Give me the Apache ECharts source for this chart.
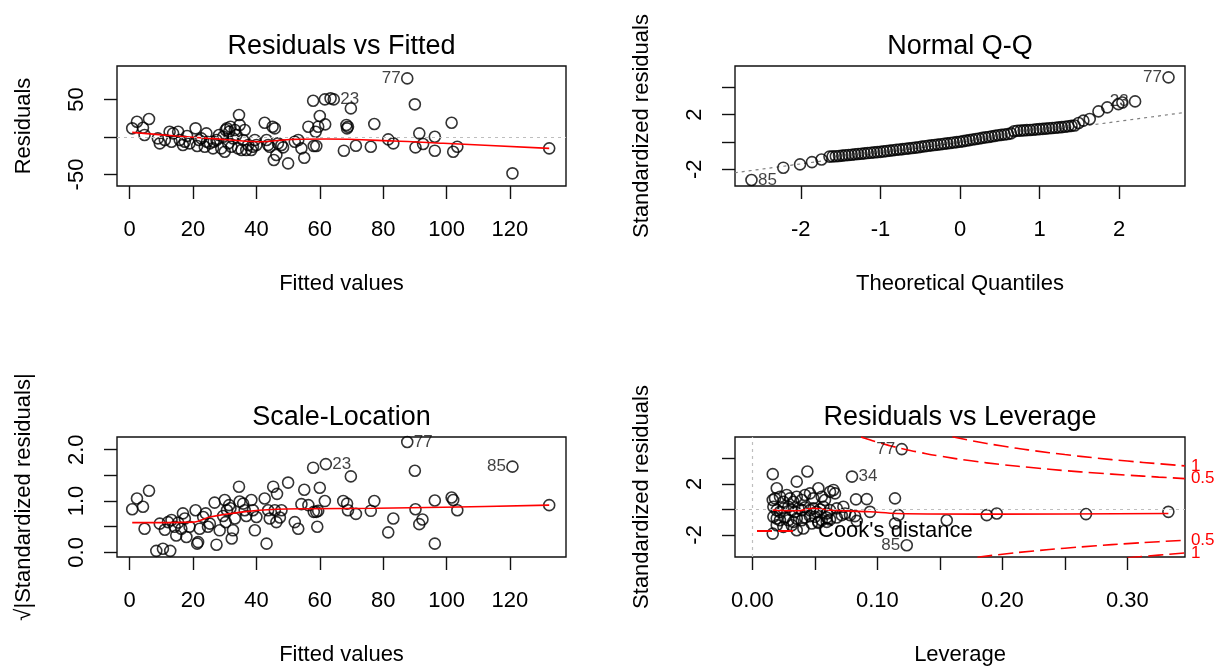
<!DOCTYPE html>
<html><head><meta charset="utf-8">
<script src="https://cdn.jsdelivr.net/npm/echarts@6/dist/echarts.min.js"></script>
<style>html,body{margin:0;padding:0;background:#fff}#c{width:1216px;height:668px}</style>
</head><body><div id="c"></div>
<script>
// ---------- Data ----------
// Panel 1: Residuals vs Fitted  [fitted, residual]
const residVsFitted = [
[0.8,11.6],[2.3,20.4],[4.2,12.4],[4.7,2.7],[6.1,24.0],[8.9,-1.8],[9.5,-8.4],[11.1,-4.0],[12.6,7.1],[13.2,-6.2],
[13.7,4.9],[15.3,7.1],[15.8,-4.0],[16.8,-10.7],[17.4,-6.2],[18.1,1.3],[18.9,-8.4],[20.8,11.6],[21.3,-12.0],[21.9,-4.0],
[22.6,-1.8],[23.7,-12.9],[24.2,4.9],[24.4,-6.2],[25.3,-8.4],[26.3,-15.1],[26.5,-6.2],[27.4,-4.0],[28.2,2.7],[28.9,-15.1],
[29.5,0.4],[30.0,-19.6],[30.3,9.3],[30.7,11.6],[31.1,-8.4],[31.4,7.1],[31.8,13.8],[32.1,-12.9],[32.6,-1.8],[33.2,9.3],
[33.7,2.7],[34.2,-15.1],[34.5,29.3],[34.7,16.0],[35.3,-17.3],[35.8,-4.0],[36.3,9.3],[36.8,-17.3],[37.4,-10.7],[38.4,-17.3],
[38.9,-12.9],[39.5,-4.0],[40.0,-10.7],[42.6,19.1],[43.2,-4.0],[43.7,-10.7],[44.2,-12.9],[45.1,13.8],[45.5,-30.7],[45.8,11.6],
[46.3,-24.0],[46.8,-8.4],[47.9,-10.7],[48.4,-13.8],[50.0,-35.1],[52.1,-6.2],[53.2,-4.0],[54.2,-15.1],[55.1,-27.6],[56.4,13.8],
[57.9,48.4],[58.1,-12.0],[58.7,7.1],[58.9,-12.0],[59.5,13.8],[60.0,28.0],[61.6,50.2],[61.7,16.9],[63.4,51.6],[64.4,50.2],
[67.6,-18.2],[68.4,16.0],[68.6,11.6],[68.9,13.8],[69.8,38.2],[71.4,-11.6],[76.1,-12.9],[77.2,17.3],[81.6,-3.1],[83.2,-8.4],
[87.6,78.2],[90.0,43.6],[90.2,-13.8],[91.4,4.9],[92.6,-9.3],[96.3,0.4],[96.3,-18.2],[101.6,19.1],[102.1,-19.6],[103.4,-12.9],
[120.8,-48.4],[132.4,-15.1]
];
const residVsFittedSmooth = [[0.8,6.2],[14.7,1.3],[25.3,-1.8],[41.1,-6.2],[51.6,-3.1],[62.1,-2.7],[83.2,-5.3],[99.0,-8.4],[132.4,-15.1]];
const residVsFittedLabels = [[87.6,78.2,'77'],[64.4,50.2,'23']];

// Panel 2: Normal Q-Q  [theoretical quantile, standardized residual]
const qqPoints = [
[-2.62,-2.79],[-2.22,-1.89],[-2.01,-1.65],[-1.86,-1.48],[-1.74,-1.29],
[-1.64,-1.08],[-1.60,-1.06],[-1.56,-1.05],[-1.52,-1.03],[-1.48,-1.01],[-1.44,-0.98],[-1.40,-0.96],[-1.36,-0.94],
[-1.32,-0.91],[-1.28,-0.89],[-1.24,-0.87],[-1.20,-0.84],[-1.16,-0.82],[-1.12,-0.80],[-1.08,-0.77],[-1.04,-0.75],
[-1.00,-0.73],[-0.96,-0.70],[-0.92,-0.67],[-0.88,-0.64],[-0.84,-0.61],[-0.80,-0.58],[-0.76,-0.56],[-0.72,-0.53],
[-0.68,-0.50],[-0.64,-0.48],[-0.60,-0.45],[-0.56,-0.42],[-0.52,-0.39],[-0.48,-0.35],[-0.44,-0.32],[-0.40,-0.29],
[-0.36,-0.26],[-0.32,-0.23],[-0.28,-0.20],[-0.24,-0.17],[-0.20,-0.14],[-0.16,-0.11],[-0.12,-0.08],[-0.08,-0.05],
[-0.04,-0.02],[0.00,0.01],[0.04,0.05],[0.08,0.09],[0.12,0.13],[0.16,0.17],[0.20,0.21],[0.24,0.25],[0.28,0.29],
[0.32,0.33],[0.36,0.36],[0.40,0.40],[0.44,0.44],[0.48,0.48],[0.52,0.51],[0.56,0.54],[0.60,0.57],[0.64,0.62],
[0.68,0.78],[0.72,0.81],[0.76,0.82],[0.80,0.84],[0.84,0.86],[0.88,0.87],[0.92,0.89],[0.96,0.91],[1.00,0.93],
[1.04,0.95],[1.08,0.97],[1.12,0.99],[1.16,1.01],[1.20,1.03],[1.24,1.06],[1.28,1.08],[1.32,1.11],[1.36,1.14],
[1.40,1.17],[1.44,1.20],
[1.49,1.38],[1.55,1.55],[1.63,1.67],[1.74,2.23],[1.85,2.52],[1.99,2.76],[2.04,2.88],[2.20,2.96],[2.62,4.72]
];
const qqLine = [[-2.83,-2.26],[2.83,2.155]];
const qqLabels = [[2.62,4.72,'77'],[2.20,2.96,'23'],[-2.62,-2.79,'85']];

// Panel 3: Scale-Location  [fitted, sqrt|standardized residual|]
const scaleLocation = [
[0.8,0.84],[2.3,1.05],[4.2,0.89],[4.7,0.46],[6.1,1.20],[8.4,0.03],[10.5,0.07],[12.8,0.03],[9.5,0.56],[11.1,0.44],
[12.1,0.59],[13.2,0.63],[14.2,0.50],[14.7,0.33],[15.3,0.58],[16.3,0.46],[16.8,0.76],[17.4,0.66],[17.9,0.30],[18.9,0.50],
[20.8,0.82],[21.3,0.17],[21.6,0.20],[22.1,0.46],[23.2,0.69],[24.0,0.76],[24.7,0.50],[25.3,0.56],[26.8,0.97],[27.4,0.15],
[28.4,0.43],[29.5,0.71],[30.0,1.02],[30.3,0.59],[30.7,0.82],[31.4,0.92],[31.8,0.86],[32.2,0.27],[32.6,0.43],[33.2,0.66],
[34.5,1.28],[34.7,0.99],[35.8,0.95],[36.3,0.82],[36.8,0.71],[38.4,1.02],[38.9,0.82],[39.5,0.43],[40.0,0.69],[42.6,1.05],
[43.2,0.17],[43.7,0.82],[44.2,0.66],[45.3,1.28],[45.8,0.82],[46.3,0.59],[46.5,1.14],[47.4,0.68],[47.9,0.82],[50.0,1.36],
[52.1,0.59],[53.2,0.46],[54.2,0.94],[55.1,1.22],[56.4,0.92],[57.9,1.65],[58.1,0.79],[58.9,0.79],[59.2,0.50],[59.5,0.81],
[60.0,1.26],[61.6,1.00],[61.9,1.72],[67.4,1.00],[68.6,0.95],[68.9,0.82],[69.8,1.48],[71.4,0.75],[76.1,0.81],[77.2,1.00],
[81.6,0.39],[83.2,0.66],[87.6,2.15],[90.0,1.59],[90.2,0.84],[91.4,0.55],[92.4,0.64],[96.3,1.01],[96.3,0.17],[101.6,1.07],
[102.1,1.02],[103.4,0.82],[120.8,1.67],[132.4,0.92]
];
const scaleLocationSmooth = [[0.8,0.58],[20.0,0.59],[25.3,0.69],[35.8,0.79],[46.3,0.84],[56.8,0.85],[77.9,0.86],[99.0,0.88],[132.4,0.92]];
const scaleLocationLabels = [[87.6,2.15,'77'],[61.9,1.72,'23'],[120.8,1.67,'85']];

// Panel 4: Residuals vs Leverage  [leverage, standardized residual]
const residVsLeverage = [
[0.0163,2.77],[0.0195,1.66],[0.0440,2.98],[0.0355,2.18],[0.0163,0.74],[0.0181,0.87],[0.0221,1.00],[0.0248,0.60],
[0.0275,1.13],[0.0301,0.87],[0.0328,0.60],[0.0355,1.00],[0.0395,0.74],[0.0421,1.13],[0.0461,1.26],[0.0488,0.87],
[0.0528,1.66],[0.0555,1.00],[0.0581,0.74],[0.0621,1.39],[0.0648,1.53],[0.0661,1.26],[0.0168,0.21],[0.0195,-0.06],
[0.0221,-0.19],[0.0248,0.08],[0.0288,0.21],[0.0315,-0.06],[0.0341,-0.19],[0.0368,0.08],[0.0395,-0.06],[0.0421,0.16],
[0.0461,-0.06],[0.0488,0.08],[0.0515,-0.19],[0.0541,0.00],[0.0568,0.21],[0.0595,-0.32],[0.0621,-0.06],[0.0675,0.08],
[0.0728,0.21],[0.0168,-0.58],[0.0195,-0.71],[0.0221,-0.85],[0.0261,-0.64],[0.0288,-0.85],[0.0328,-0.98],[0.0355,-0.71],
[0.0395,-0.85],[0.0421,-0.64],[0.0461,-0.53],[0.0501,-0.58],[0.0528,-0.98],[0.0555,-0.85],[0.0595,-0.64],[0.0621,-0.79],
[0.0675,-0.64],[0.0715,-0.45],[0.0741,-0.32],[0.0781,-0.45],[0.0821,-0.53],[0.0835,-0.90],[0.0163,-1.90],[0.0195,-1.24],
[0.0248,-1.37],[0.0315,-1.24],[0.0355,-1.64],[0.0408,-1.50],[0.0475,-1.11],[0.0528,-1.06],[0.0595,-0.98],[0.0829,0.79],
[0.0915,0.81],[0.0941,-0.19],[0.1141,0.87],[0.1141,-1.11],[0.1168,-0.45],[0.1555,-0.85],[0.1875,-0.45],[0.1955,-0.32],
[0.2669,-0.37],[0.3328,-0.19],[0.0797,2.58],[0.1195,4.74],[0.1235,-2.82]
];
const residVsLeverageSmooth = [[0.0163,-0.06],[0.0355,-0.11],[0.0488,0.08],[0.0621,-0.06],[0.0941,-0.19],[0.1155,-0.32],[0.1955,-0.37],[0.3328,-0.32]];
const residVsLeverageLabels = [[0.1195,4.74,'77'],[0.0797,2.58,'34'],[0.1235,-2.82,'85']];
// Cook's distance contours
const cookUpperHalf = [[0.087,5.70],[0.09,5.60],[0.10,5.28],[0.11,5.01],[0.12,4.77],[0.135,4.46],[0.15,4.19],[0.175,3.82],[0.20,3.52],[0.225,3.27],[0.25,3.05],[0.275,2.86],[0.30,2.69],[0.325,2.54],[0.346,2.42]];
const cookUpperOne  = [[0.16,5.71],[0.175,5.41],[0.20,4.98],[0.225,4.62],[0.25,4.31],[0.275,4.04],[0.30,3.80],[0.325,3.59],[0.346,3.42]];
const cookLowerHalf = [[0.18,-3.76],[0.20,-3.52],[0.225,-3.27],[0.25,-3.05],[0.275,-2.86],[0.30,-2.69],[0.325,-2.54],[0.346,-2.42]];
const cookLowerOne  = [[0.30,-3.80],[0.325,-3.59],[0.346,-3.42]];

// Tick values / labels
const fittedTicks = [0,20,40,60,80,100,120];
const residTicks = [-50,0,50], residTickLabels = [-50,50];
const qqXTicks = [-2,-1,0,1,2];
const stdTicks = [-2,0,2,4], stdTickLabels = [-2,2];
const slTicks = [0,0.5,1,1.5,2], slTickLabels = [0,1,2];
const levTicks = [0,0.05,0.1,0.15,0.2,0.25,0.3], levTickLabels = [0,0.1,0.2,0.3];

// ---------- Chart ----------
const FONT = '"Liberation Sans", Arial, Helvetica, sans-serif';
const chart = echarts.init(document.getElementById('c'), null, {renderer:'canvas'});
const boxes = [
  {left:117, top:66, width:449, height:120},
  {left:735, top:66, width:450, height:120},
  {left:117, top:437, width:449, height:120},
  {left:735, top:437, width:450, height:120}
];
const grid = boxes.map(b => Object.assign({show:true, borderColor:'#111', borderWidth:1.4, backgroundColor:'transparent', containLabel:false}, b));

function xAx(gi, min, max, ticks, labels, fmt, name) {
  return {type:'value', gridIndex:gi, min:min, max:max, name:name, nameLocation:'middle', nameGap:87,
    nameTextStyle:{fontFamily:FONT, fontSize:22, color:'#000'},
    axisLine:{show:false, onZero:false}, splitLine:{show:false},
    axisTick:{show:true, inside:false, length:13, customValues:ticks, lineStyle:{color:'#111', width:1.4}},
    axisLabel:{show:true, customValues:labels, formatter:fmt, margin:33, fontFamily:FONT, fontSize:22, color:'#000', hideOverlap:false}};
}
function yAx(gi, min, max, ticks, labels, fmt, name) {
  return {type:'value', gridIndex:gi, min:min, max:max, name:name, nameLocation:'middle', nameGap:82,
    nameTextStyle:{fontFamily:FONT, fontSize:22, color:'#000'},
    axisLine:{show:false, onZero:false}, splitLine:{show:false},
    axisTick:{show:true, inside:false, length:13, customValues:ticks, lineStyle:{color:'#111', width:1.4}},
    axisLabel:{show:true, rotate:90, customValues:labels, formatter:fmt, margin:29, fontFamily:FONT, fontSize:22, color:'#000', hideOverlap:false}};
}
const num = v => String(v);
const xAxis = [
  xAx(0, -4.0, 137.7, fittedTicks, fittedTicks, num, 'Fitted values'),
  xAx(1, -2.827, 2.827, qqXTicks, qqXTicks, num, 'Theoretical Quantiles'),
  xAx(2, -4.0, 137.7, fittedTicks, fittedTicks, num, 'Fitted values'),
  xAx(3, -0.0139, 0.3461, levTicks, levTickLabels, v => v.toFixed(2), 'Leverage')
];
const yAxis = [
  yAx(0, -65.3, 94.7, residTicks, residTickLabels, num, 'Residuals'),
  yAx(1, -3.23, 5.55, stdTicks, stdTickLabels, num, 'Standardized residuals'),
  yAx(2, -0.09, 2.248, slTicks, slTickLabels, v => v.toFixed(1), '\u221A|Standardized residuals|'),
  yAx(3, -3.74, 5.69, stdTicks, stdTickLabels, num, 'Standardized residuals')
];

function pts(gi, data) {
  return {type:'scatter', xAxisIndex:gi, yAxisIndex:gi, data:data, symbol:'circle', symbolSize:11, silent:true,
    itemStyle:{color:'rgba(0,0,0,0)', borderColor:'#000', borderWidth:1.6}, z:3};
}
function smooth(gi, data) {
  return {type:'line', xAxisIndex:gi, yAxisIndex:gi, data:data, showSymbol:false, symbol:'none', smooth:0.35, silent:true,
    lineStyle:{color:'#ff0000', width:1.6}, z:4};
}
function labels(gi, data, sides) {
  return {type:'scatter', xAxisIndex:gi, yAxisIndex:gi, silent:true, symbol:'circle', symbolSize:11,
    itemStyle:{color:'rgba(0,0,0,0)', borderWidth:0}, z:5,
    data:data.map((d,i) => ({value:[d[0],d[1]], name:d[2], label:{position:sides[i]}})),
    label:{show:true, formatter:p => p.name, distance:1, fontFamily:FONT, fontSize:17, color:'#111'}};
}
function cook(data, name, lab) {
  return {type:'line', name:name, xAxisIndex:3, yAxisIndex:3, data:data, showSymbol:false, symbol:'none', smooth:true, silent:true,
    itemStyle:{color:'#ff0000'},
    lineStyle:{color:'#ff0000', width:1.6, type:[15,6]}, z:4,
    endLabel:{show:true, formatter:lab, color:'#ff0000', fontFamily:FONT, fontSize:17, distance:6}};
}

const series = [
  {type:'line', xAxisIndex:0, yAxisIndex:0, data:[], silent:true,
    markLine:{silent:true, symbol:'none', label:{show:false}, animation:false,
      lineStyle:{color:'#bebebe', type:[3,4], width:1.2}, data:[{yAxis:0}]}},
  pts(0, residVsFitted), smooth(0, residVsFittedSmooth), labels(0, residVsFittedLabels, ['left','right']),
  {type:'line', xAxisIndex:1, yAxisIndex:1, data:qqLine, showSymbol:false, symbol:'none', silent:true,
    lineStyle:{color:'#7f7f7f', type:[3,4], width:1.2}, z:2},
  pts(1, qqPoints), labels(1, qqLabels, ['left','left','right']),
  pts(2, scaleLocation), smooth(2, scaleLocationSmooth), labels(2, scaleLocationLabels, ['right','right','left']),
  {type:'line', xAxisIndex:3, yAxisIndex:3, data:[], silent:true,
    markLine:{silent:true, symbol:'none', label:{show:false}, animation:false,
      lineStyle:{color:'#bebebe', type:[3,4], width:1.2}, data:[{yAxis:0},{xAxis:0}]}},
  pts(3, residVsLeverage), smooth(3, residVsLeverageSmooth), labels(3, residVsLeverageLabels, ['left','right','left']),
  cook(cookUpperHalf, "Cook's distance", '0.5'), cook(cookUpperOne, 'c1', '1'),
  cook(cookLowerHalf, 'c3', '0.5'), cook(cookLowerOne, 'c4', '1')
];

const titleStyle = {fontFamily:FONT, fontSize:27, fontWeight:'normal', color:'#000'};
const title = [
  {text:'Residuals vs Fitted', left:341.5, top:33, textAlign:'center', padding:0, textStyle:titleStyle},
  {text:'Normal Q-Q', left:960, top:33, textAlign:'center', padding:0, textStyle:titleStyle},
  {text:'Scale-Location', left:341.5, top:404, textAlign:'center', padding:0, textStyle:titleStyle},
  {text:'Residuals vs Leverage', left:960, top:404, textAlign:'center', padding:0, textStyle:titleStyle}
];

chart.setOption({
  animation:false,
  backgroundColor:'#fff',
  title:title,
  grid:grid, xAxis:xAxis, yAxis:yAxis, series:series,
  legend:{data:[{name:"Cook's distance", icon:'path://M0,0 L15,0 L15,2 L0,2 Z M21,0 L36,0 L36,2 L21,2 Z'}],
    left:757, top:520, padding:0, itemWidth:36, itemHeight:2, selectedMode:false,
    itemStyle:{color:'#ff0000'},
    textStyle:{fontFamily:FONT, fontSize:22, color:'#000', padding:[0,0,0,20]}}
});
</script>
</body></html>
